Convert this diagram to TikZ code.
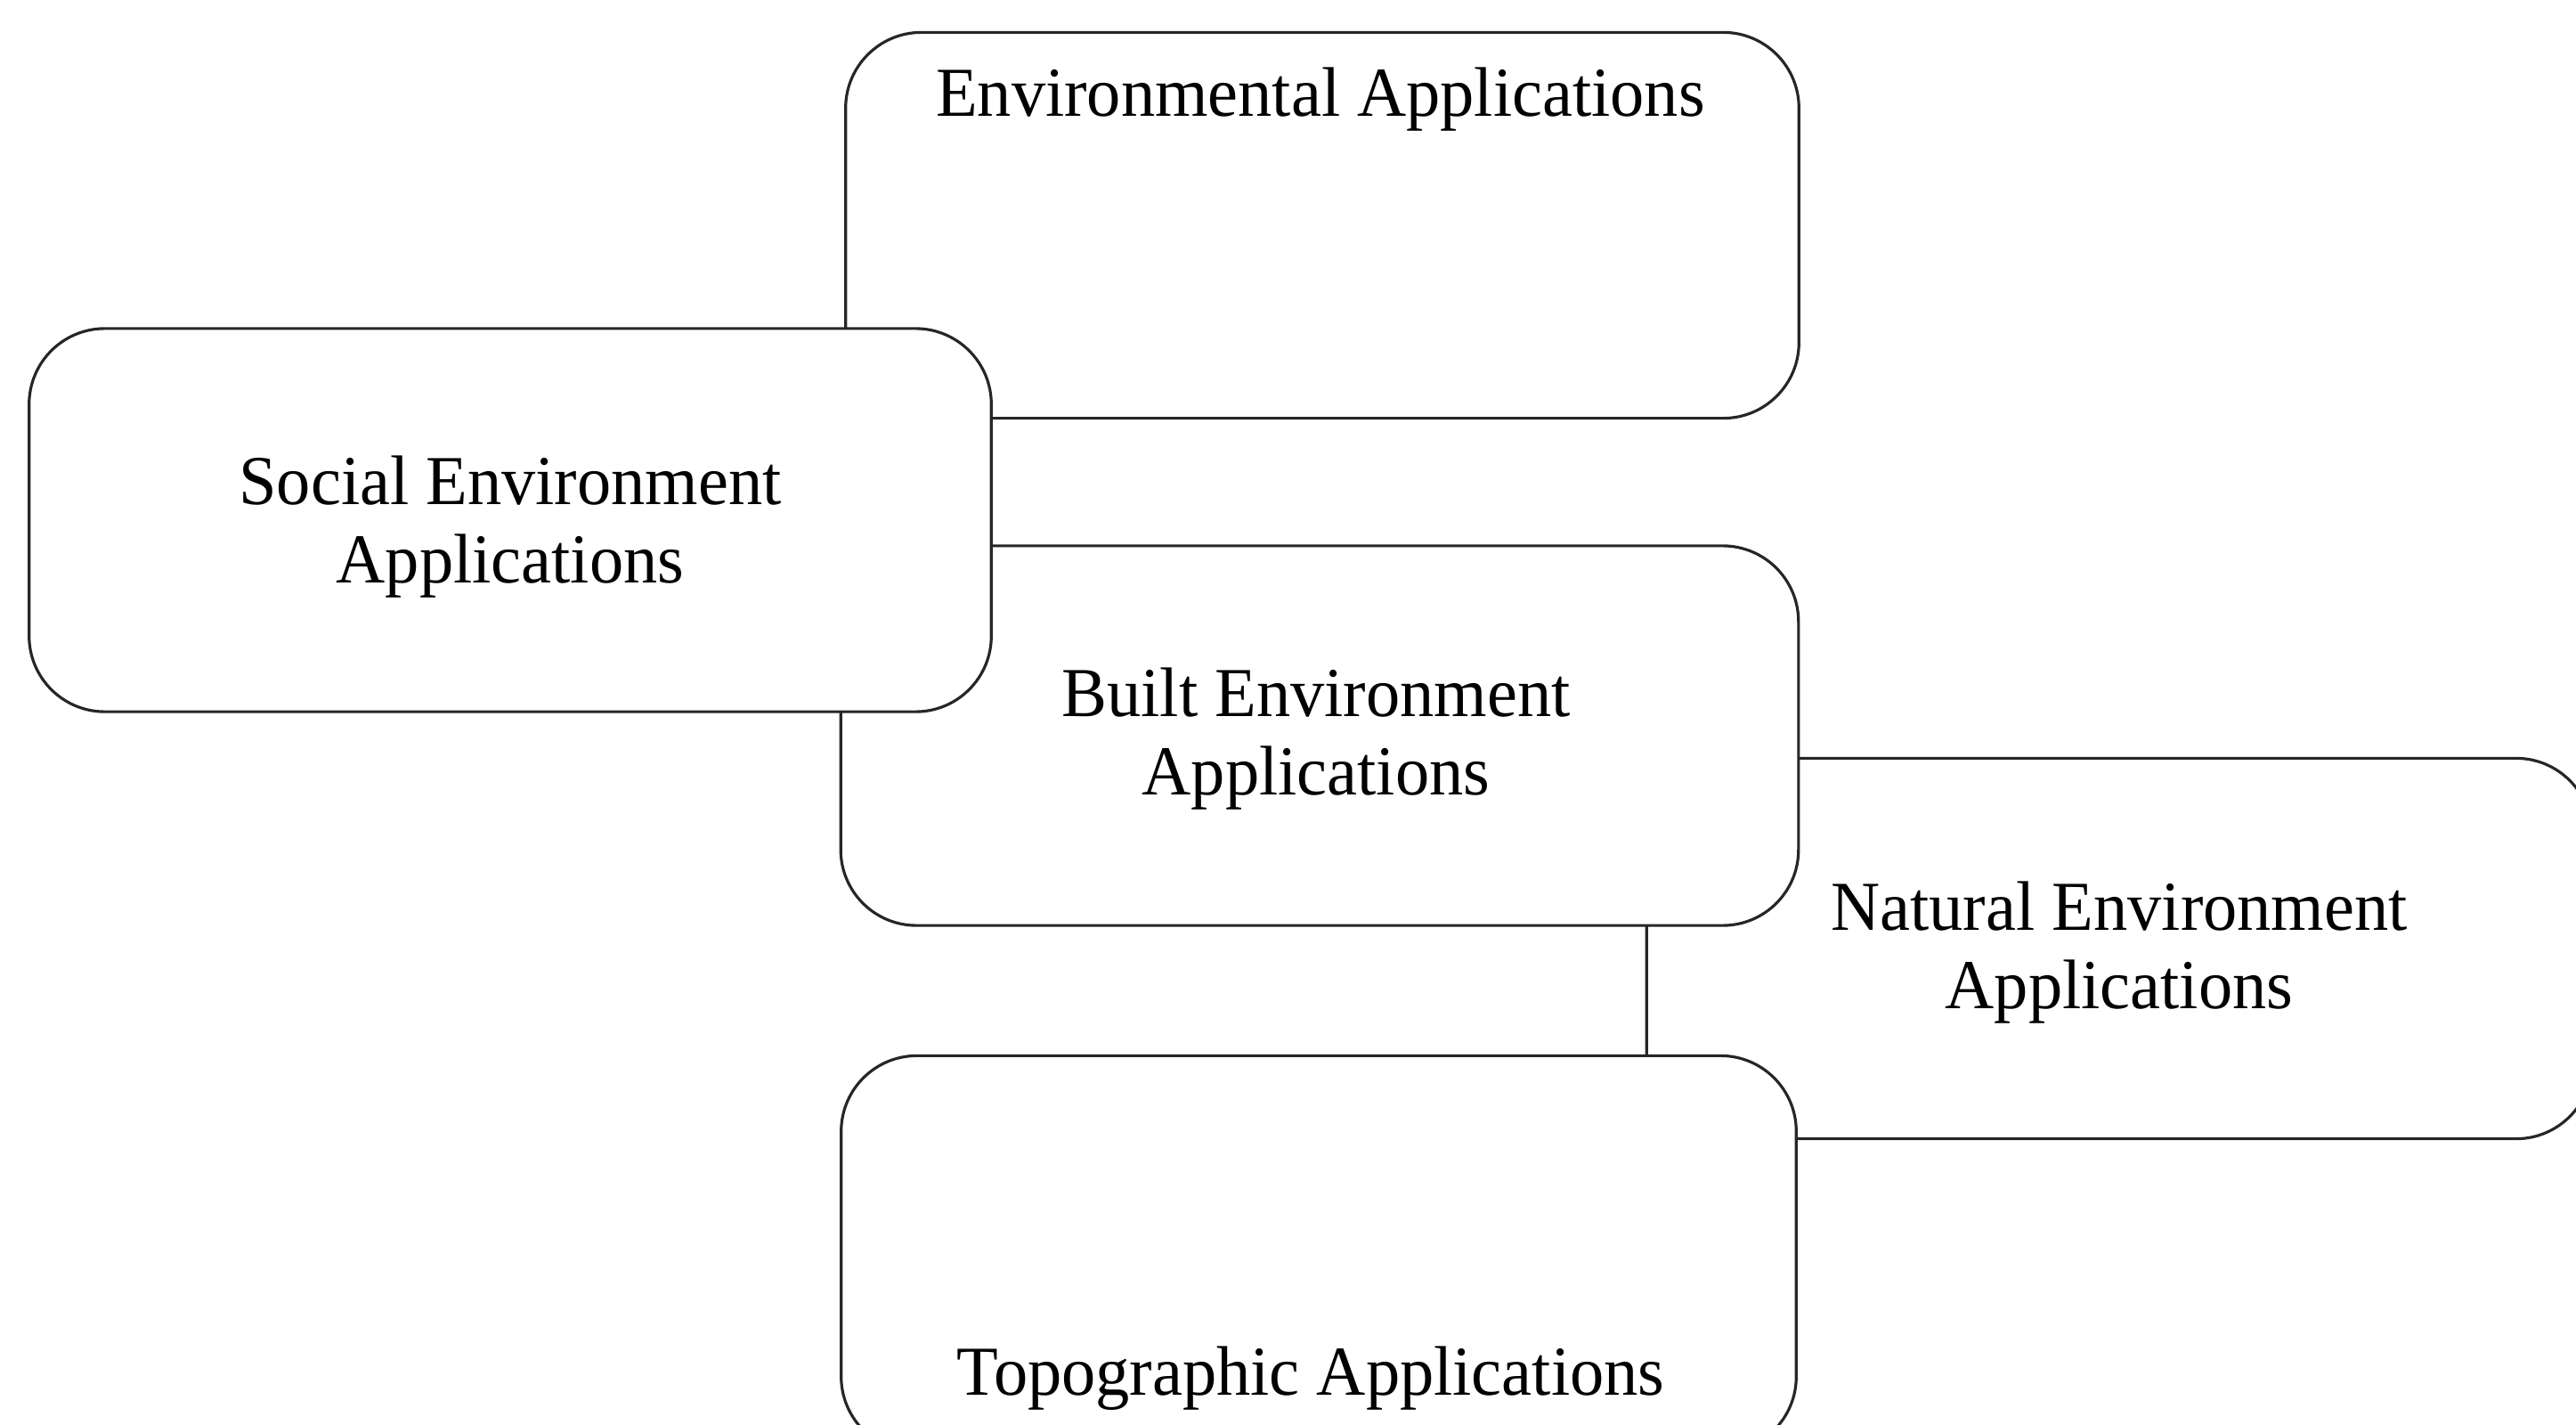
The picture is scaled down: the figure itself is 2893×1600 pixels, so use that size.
\documentclass[tikz,border=0pt]{standalone}
\usepackage{fontspec}
\setmainfont{Liberation Serif}[FakeStretch=0.97]
\begin{document}
\begin{tikzpicture}[x=0.01cm,y=-0.01cm,
  appbox/.style={draw=black!85, line width=0.9pt, fill=white, rounded corners=0.85cm,
    inner sep=0pt},
  boxtext/.style={inner sep=0pt, align=center, font=\fontsize{22.4pt}{25pt}\selectfont}]
\useasboundingbox (0,0) rectangle (2893,1600);
% boxes, back to front
\node[appbox, minimum width=10.61cm, minimum height=4.27cm] (natural) at (2380,1065) {};
\node[appbox, minimum width=10.70cm, minimum height=4.33cm] (env) at (1485,253) {};
\node[appbox, minimum width=10.75cm, minimum height=4.26cm] (built) at (1482,826) {};
\node[appbox, minimum width=10.72cm, minimum height=4.45cm] (topo) at (1481,1408) {};
\node[appbox, minimum width=10.80cm, minimum height=4.30cm] (social) at (573,584) {};
% box titles
\node[boxtext] (envtext) at (1483,112) {Environmental Applications};
\node[boxtext] (socialtext) at (573,592) {Social Environment\\Applications};
\node[boxtext] (builttext) at (1478,830) {Built Environment\\Applications};
\node[boxtext] (naturaltext) at (2380,1070) {Natural Environment\\Applications};
\node[boxtext] (topotext) at (1472,1548) {Topographic Applications};
\end{tikzpicture}
\end{document}
